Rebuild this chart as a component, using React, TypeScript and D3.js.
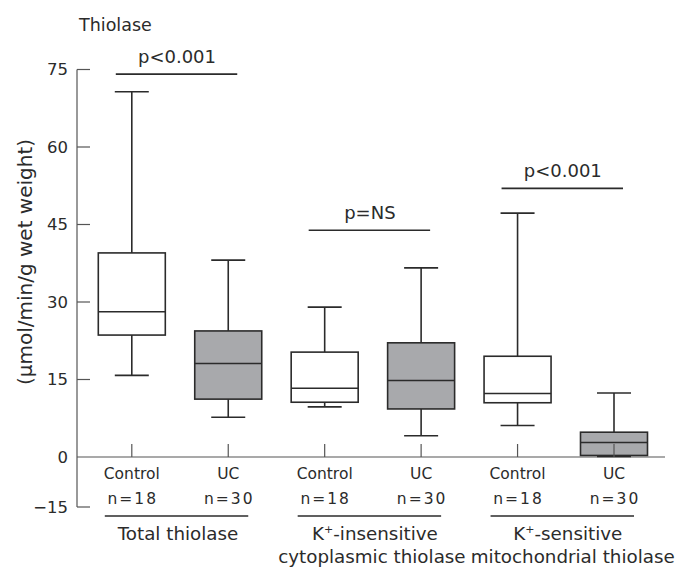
import * as d3 from "d3";

// values (µmol/min/g wet weight)
const categories = ["Control", "UC", "Control", "UC", "Control", "UC"];
const sampleSizes = ["n=18", "n=30", "n=18", "n=30", "n=18", "n=30"];
const whiskerLow = [15.8, 7.7, 9.7, 4.1, 6.1, 0.1];
const lowerQuartile = [23.6, 11.2, 10.6, 9.3, 10.5, 0.3];
const medians = [28.1, 18.1, 13.3, 14.8, 12.3, 2.8];
const upperQuartile = [39.5, 24.4, 20.3, 22.1, 19.5, 4.8];
const whiskerHigh = [70.7, 38.1, 29.0, 36.6, 47.2, 12.4];
const isUC = [false, true, false, true, false, true];

const yTicks = [-15, 0, 15, 30, 45, 60, 75];

const groupLabels = [
  ["Total thiolase"],
  ["-insensitive", "cytoplasmic thiolase"],
  ["-sensitive", "mitochondrial thiolase"],
];
const pLabels = ["p<0.001", "p=NS", "p<0.001"];
const pLevels = [74.1, 43.9, 52.0];

const width = 686;
const height = 571;
const font = "'DejaVu Sans', sans-serif";
const ink = "#2b2b2b";
const axisInk = "#555";

export default function App() {
  // axis below zero is compressed in the original figure
  const y = d3.scaleLinear().domain([-15, 0, 75]).range([507, 457, 69.5]);
  const x = d3
    .scalePoint<number>()
    .domain(d3.range(categories.length))
    .range([131.8, 614]);
  const boxW = 67;
  const capW = 34;
  const axisX = 77;

  return (
    <div style={{ position: "absolute", left: 0, top: 0 }}>
      <svg width={width} height={height} fontFamily={font} style={{ display: "block", background: "#fff" }}>
        <text x={79} y={31} fontSize={17.5} fill={ink}>
          Thiolase
        </text>

        {/* y axis */}
        <line x1={axisX} x2={axisX} y1={y(75)} y2={y(-15)} stroke={axisInk} strokeWidth={1.2} />
        {yTicks.map((t) => (
          <g key={t}>
            {t !== 0 && (
              <line x1={axisX} x2={axisX + 13} y1={y(t)} y2={y(t)} stroke={axisInk} strokeWidth={1.2} />
            )}
            <text x={68} y={y(t)} dy="0.36em" textAnchor="end" fontSize={16.5} fill={ink}>
              {t < 0 ? `\u2212${Math.abs(t)}` : t}
            </text>
          </g>
        ))}
        <text
          transform={`translate(25,${262}) rotate(-90)`}
          textAnchor="middle"
          dy="0.35em"
          fontSize={20}
          fill={ink}
        >
          (µmol/min/g wet weight)
        </text>

        {/* zero baseline */}
        <line x1={axisX} x2={665} y1={y(0)} y2={y(0)} stroke={axisInk} strokeWidth={1.2} />

        {/* boxes */}
        {categories.map((_, i) => {
          const cx = x(i) ?? 0;
          return (
            <g key={i} stroke={ink} strokeWidth={1.6}>
              <line x1={cx} x2={cx} y1={y(whiskerHigh[i])} y2={y(upperQuartile[i])} />
              <line x1={cx} x2={cx} y1={y(lowerQuartile[i])} y2={y(whiskerLow[i])} />
              <line x1={cx - capW / 2} x2={cx + capW / 2} y1={y(whiskerHigh[i])} y2={y(whiskerHigh[i])} />
              <line x1={cx - capW / 2} x2={cx + capW / 2} y1={y(whiskerLow[i])} y2={y(whiskerLow[i])} />
              <rect
                x={cx - boxW / 2}
                y={y(upperQuartile[i])}
                width={boxW}
                height={y(lowerQuartile[i]) - y(upperQuartile[i])}
                fill={isUC[i] ? "#a8a9ac" : "#fff"}
              />
              <line x1={cx - boxW / 2} x2={cx + boxW / 2} y1={y(medians[i])} y2={y(medians[i])} />
            </g>
          );
        })}

        {/* category ticks */}
        {categories.map((_, i) => (
          <line
            key={i}
            x1={x(i)}
            x2={x(i)}
            y1={y(0)}
            y2={y(0) - 13}
            stroke={axisInk}
            strokeWidth={1.2}
          />
        ))}

        {/* category labels */}
        {categories.map((c, i) => (
          <g key={i} fontSize={15.5} fill={ink} textAnchor="middle">
            <text x={x(i)} y={479}>
              {c}
            </text>
            <text x={(x(i) ?? 0) + 1} y={504} letterSpacing={2}>
              {sampleSizes[i]}
            </text>
          </g>
        ))}

        {/* group labels and significance bars */}
        {groupLabels.map((lines, g) => {
          const a = x(g * 2) ?? 0;
          const b = x(g * 2 + 1) ?? 0;
          const mid = (a + b) / 2;
          const py = y(pLevels[g]);
          return (
            <g key={g} fill={ink}>
              <line x1={a - 27} x2={b + 20} y1={516} y2={516} stroke={ink} strokeWidth={1.4} />
              {g === 0 ? (
                <text x={mid - 2} y={540} textAnchor="middle" fontSize={18.3}>
                  {lines[0]}
                </text>
              ) : (
                <>
                  <text x={mid + 2} y={540} textAnchor="middle" fontSize={18.3}>
                    K
                    <tspan fontSize={11} dy={-7}>
                      +
                    </tspan>
                    <tspan dy={7}>{lines[0]}</tspan>
                  </text>
                  <text x={g === 2 ? mid + 7 : mid - 1} y={563} textAnchor="middle" fontSize={18.3}>
                    {lines[1]}
                  </text>
                </>
              )}
              <line x1={a - 16} x2={b + 9} y1={py} y2={py} stroke={ink} strokeWidth={1.6} />
              <text x={mid - 3} y={py - 11} textAnchor="middle" fontSize={18}>
                {pLabels[g]}
              </text>
            </g>
          );
        })}
      </svg>
    </div>
  );
}
